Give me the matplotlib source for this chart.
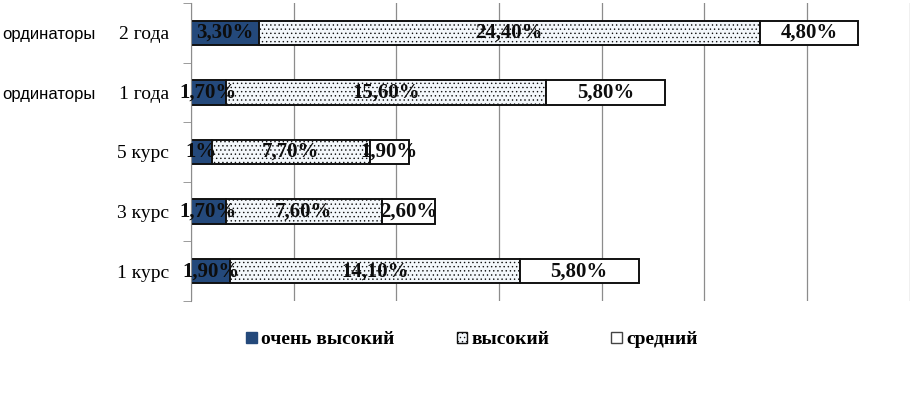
import matplotlib
matplotlib.use("Agg")
import matplotlib.pyplot as plt
from matplotlib.patches import Patch
import numpy as np

categories = ["1 курс", "3 курс", "5 курс", "1 года", "2 года"]
side_labels = ["", "", "", "ординаторы", "ординаторы"]
very_high = [1.9, 1.7, 1.0, 1.7, 3.3]
high = [14.1, 7.6, 7.7, 15.6, 24.4]
medium = [5.8, 2.6, 1.9, 5.8, 4.8]
very_high_lbl = ["1,90%", "1,70%", "1%", "1,70%", "3,30%"]
high_lbl = ["14,10%", "7,60%", "7,70%", "15,60%", "24,40%"]
medium_lbl = ["5,80%", "2,60%", "1,90%", "5,80%", "4,80%"]
series_names = ["очень высокий", "высокий", "средний"]

plt.rcParams['hatch.color'] = '#c6d4e2'
plt.rcParams['hatch.linewidth'] = 0.5

fig = plt.figure(figsize=(9.21, 3.97), dpi=100)
ax = fig.add_axes([191/921, 1-301/397, (909.6-191)/921, 298/397])

y = np.arange(len(categories))
h = 0.41
ec = '#111111'
lw = 1.4
ax.barh(y, very_high, height=h, color='#24497b', edgecolor=ec, linewidth=lw, zorder=3)
left2 = np.array(very_high)
ax.barh(y, high, left=left2, height=h, color='#f3f7fb', edgecolor=ec, linewidth=lw,
        hatch='....', zorder=3)
left3 = left2 + np.array(high)
ax.barh(y, medium, left=left3, height=h, color='white', edgecolor=ec, linewidth=lw, zorder=3)

tf = dict(family='Liberation Serif', fontweight='bold', fontsize=15, color='#0d0d0d',
          ha='center', va='center', zorder=5)
for i in range(len(categories)):
    ax.text(very_high[i]/2, y[i], very_high_lbl[i], **tf)
    ax.text(left2[i] + high[i]/2, y[i], high_lbl[i], **tf)
    ax.text(left3[i] + medium[i]/2, y[i], medium_lbl[i], **tf)

ax.set_xlim(0, 35)
ax.set_ylim(-0.5, len(categories) - 0.5)
ax.set_xticks(np.arange(0, 36, 5))
ax.set_xticklabels([])
ax.tick_params(axis='x', length=0)
ax.grid(axis='x', color='#8c8c8c', linewidth=0.9, zorder=0)
ax.set_yticks(y)
ax.set_yticklabels(categories, family='Liberation Serif', fontsize=14)
ax.set_yticks(np.arange(-0.5, len(categories), 1), minor=True)
ax.tick_params(axis='y', which='major', length=0, pad=16)
ax.tick_params(axis='y', which='minor', length=6, color='#8c8c8c')
for s in ['top', 'right', 'bottom']:
    ax.spines[s].set_visible(False)
ax.spines['left'].set_color('#8c8c8c')
ax.spines['left'].set_zorder(4)

for i, t in enumerate(side_labels):
    if t:
        fig.text(2/921, 1 - (5 + (len(categories) - 1 - i + 0.5) * 59.6) / 397, t,
                 family='Liberation Sans', fontsize=12, ha='left', va='center')

handles = [Patch(facecolor='#24497b', edgecolor='#24497b'),
           Patch(facecolor='#f3f7fb', edgecolor=ec, hatch='....'),
           Patch(facecolor='white', edgecolor='#444444')]
fig.legend(handles, series_names, loc='center', bbox_to_anchor=(472/921, 1-340/397), ncol=3,
           frameon=False, prop=dict(family='Liberation Serif', weight='bold', size=14),
           handlelength=0.55, handleheight=0.55, handletextpad=0.2, columnspacing=3.2)

fig.savefig('out.png', dpi=100)
